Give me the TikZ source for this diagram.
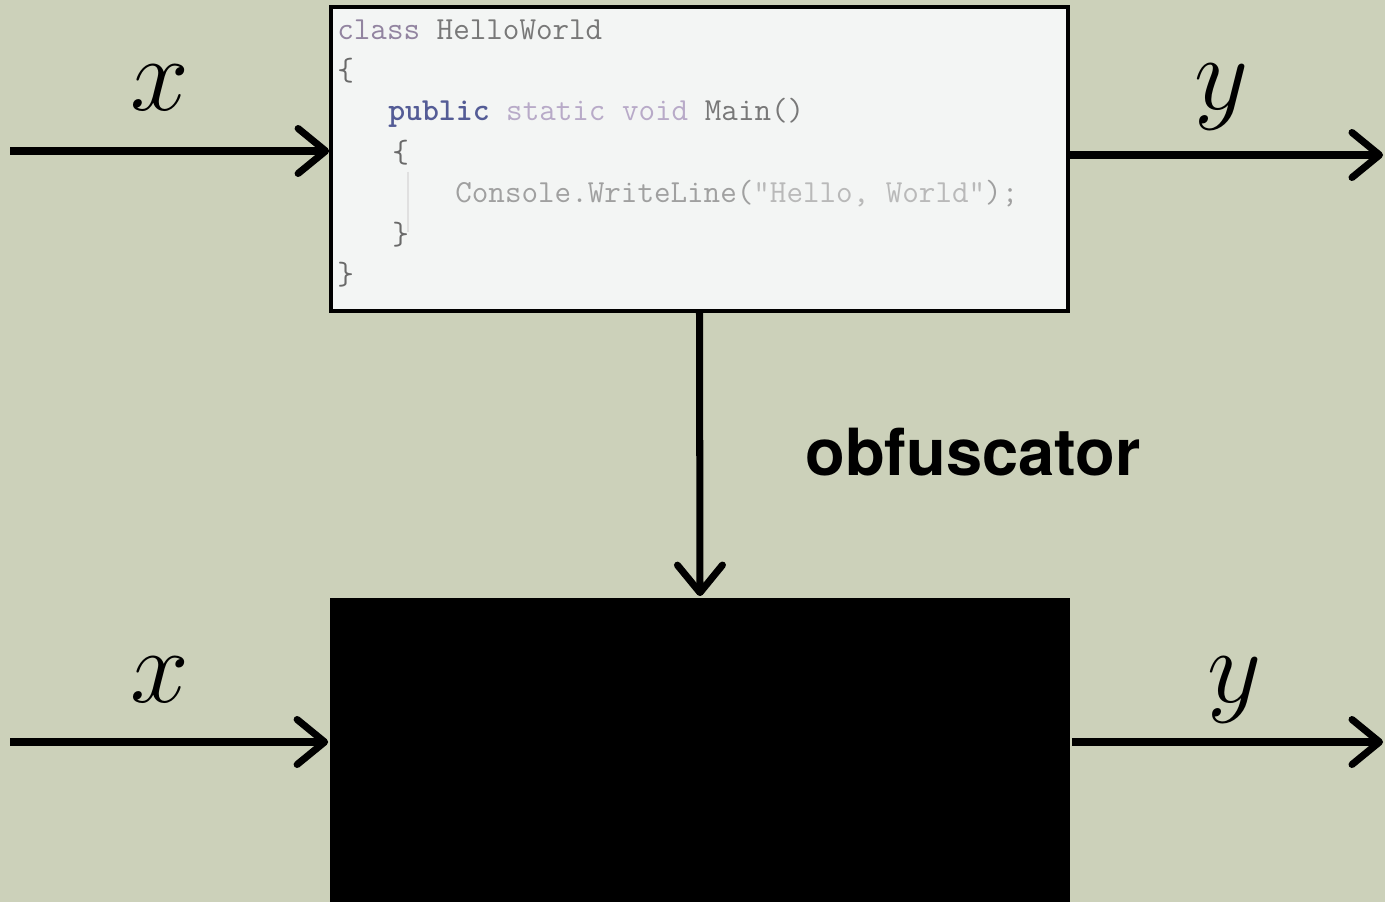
\RequirePackage{fix-cm}
\documentclass[tikz,border=0pt]{standalone}
\usepackage{fontspec}
\newfontfamily\labelfont{TeX Gyre Heros}
\usetikzlibrary{arrows.meta, positioning}

\definecolor{slide}{RGB}{204,209,186}
\definecolor{codebg}{RGB}{243,245,244}
\definecolor{kwclass}{RGB}{146,132,160}
\definecolor{kwpub}{RGB}{84,92,150}
\definecolor{kwstat}{RGB}{184,170,200}
\definecolor{ident}{RGB}{120,120,120}
\definecolor{brace}{RGB}{105,105,105}
\definecolor{faded}{RGB}{160,160,160}
\definecolor{strng}{RGB}{185,185,185}

\begin{document}
\begin{tikzpicture}[x=0.02cm, y=-0.02cm,
  box/.style={draw=black, line width=2.2pt, minimum height=6.08cm, inner sep=0pt},
  flow/.style={line width=4pt, -{Straight Barb[length=0.55cm, width=0.9cm, line cap=round, line join=round]}},
  sig/.style={font=\fontsize{60}{60}\selectfont},
  code/.style={anchor=base west, inner sep=0pt, font=\ttfamily\fontsize{18.3}{18.3}\selectfont}]
  % Background
  \fill[slide] (0,0) rectangle (1385,902);
  \useasboundingbox (0,0) rectangle (1385,902);

  % Program and obfuscated program
  \node[box, fill=codebg, minimum width=14.74cm] (prog) at (699.5,159) {};
  \node[box, draw=none, fill=black, minimum width=14.8cm] (obf) at (700,750) {};

  % Source code
  \node[code] (c1) at (337,40) {\textcolor{kwclass}{class} \textcolor{ident}{HelloWorld}};
  \node[code] (c2) at (337,81) {\textcolor{brace}{\{}};
  \node[code] (c3) at (388,121) {\textcolor{kwpub}{\bfseries public} \textcolor{kwstat}{static void} \textcolor{ident}{Main()}};
  \node[code] (c4) at (392,163) {\textcolor{brace}{\{}};
  \node[code] (c5) at (455,203) {\textcolor{faded}{Console.WriteLine(\textcolor{strng}{"Hello, World"});}};
  \node[code] (c6) at (392,244) {\textcolor{brace}{\}}};
  \node[code] (c7) at (337,284) {\textcolor{brace}{\}}};
  \draw[black!12, line width=0.8pt] (408,172) -- (408,232);

  % Inputs and outputs
  \coordinate (xin) at (10,151);
  \coordinate (yout) at (1383,155);
  \coordinate (xin2) at (10,742);
  \coordinate (yout2) at (1383,742);
  \draw[flow] (xin) -- (prog.west |- xin);
  \draw[flow] (prog.east |- yout) -- (yout);
  \draw[flow] (xin2) -- (obf.west |- xin2);
  \draw[flow] (obf.east |- yout2) -- (yout2);
  \draw[flow] (prog.south) -- (obf.north);

  % Labels
  \node[sig] (xa) at (160,88) {$x$};
  \node[sig] (ya) at (1222,97) {$y$};
  \node[sig] (xb) at (160,680) {$x$};
  \node[sig] (yb) at (1235,690) {$y$};
  \node[font=\labelfont\bfseries\fontsize{37}{37}\selectfont] (olabel) at (973,452) {obfuscator};
\end{tikzpicture}
\end{document}
